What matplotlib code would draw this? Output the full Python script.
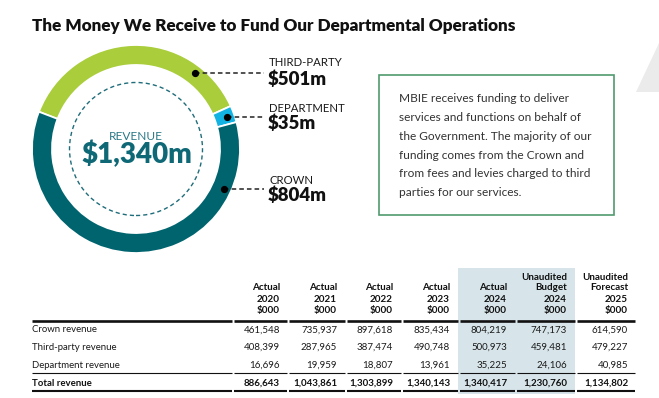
import matplotlib
matplotlib.use("Agg")
import matplotlib.pyplot as plt
from matplotlib.patches import Rectangle, Polygon, Circle
import numpy as np

plt.rcParams['font.family'] = ['Lato', 'DejaVu Sans']

# ---------------- data ----------------
title = "The Money We Receive to Fund Our Departmental Operations"
seg_names = ["THIRD-PARTY", "DEPARTMENT", "CROWN"]
seg_values = [501, 35, 804]          # $m
seg_colors = ["#a9cd3b", "#12b2e3", "#00646f"]
total_label = "$1,340m"
center_label = "REVENUE"

box_lines = [
    "MBIE receives funding to deliver",
    "services and functions on behalf of",
    "the Government. The majority of our",
    "funding comes from the Crown and",
    "from fees and levies charged to third",
    "parties for our services.",
]

col_headers = [
    ["Actual", "2020", "$000"],
    ["Actual", "2021", "$000"],
    ["Actual", "2022", "$000"],
    ["Actual", "2023", "$000"],
    ["Actual", "2024", "$000"],
    ["Unaudited", "Budget", "2024", "$000"],
    ["Unaudited", "Forecast", "2025", "$000"],
]
row_labels = ["Crown revenue", "Third-party revenue", "Department revenue"]
crown_rev = ["461,548", "735,937", "897,618", "835,434", "804,219", "747,173", "614,590"]
third_rev = ["408,399", "287,965", "387,474", "490,748", "500,973", "459,481", "479,227"]
dept_rev = ["16,696", "19,959", "18,807", "13,961", "35,225", "24,106", "40,985"]
total_label_row = "Total revenue"
total_rev = ["886,643", "1,043,861", "1,303,899", "1,340,143", "1,340,417", "1,230,760", "1,134,802"]

# ---------------- layout ----------------
W, H = 659, 398
fig = plt.figure(figsize=(W / 100, H / 100), dpi=100)

cx, cy, R = 136, 149, 104
ring_w = 20
pax = fig.add_axes([(cx - R) / W, (H - cy - R) / H, 2 * R / W, 2 * R / H])
pax.pie(seg_values, colors=seg_colors, startangle=159, counterclock=False,
        radius=1, wedgeprops=dict(width=ring_w / R, edgecolor="white", linewidth=1.3))
pax.add_patch(Circle((0, 0), 66.5 / R, fill=False, edgecolor="#1f6d7a",
                     linewidth=1.0, linestyle=(0, (3, 2.2))))
pax.set_xlim(-1, 1)
pax.set_ylim(-1, 1)
pax.set_aspect("equal")
pax.axis("off")

ax = fig.add_axes([0, 0, 1, 1])
ax.set_xlim(0, W)
ax.set_ylim(H, 0)
ax.axis("off")
ax.patch.set_alpha(0)

# title
ax.text(32, 26, title, fontsize=12.3, fontweight="heavy", color="#111111",
        ha="left", va="center")

# decorative triangle
ax.add_patch(Polygon([(636, 92), (659, 92), (659, 43)], closed=True,
                     facecolor="#ebebeb", edgecolor="none"))

# center labels
ax.text(cx, 136, center_label, fontsize=8.6, color="#2a7886", ha="center", va="center")
ax.text(cx + 1, 154, total_label, fontsize=20, fontweight="heavy", color="#0e6875",
        ha="center", va="center")

# callouts
dot_angles = [52, 19.6, -24.4]
lab_y = [(63, 79), (108, 123), (180, 195)]
r_dot = 0.925 * R
for name, val, ang, (y1, y2) in zip(seg_names, seg_values, dot_angles, lab_y):
    dx = cx + r_dot * np.cos(np.radians(ang))
    dy = cy - r_dot * np.sin(np.radians(ang))
    ax.plot([dx, 264], [dy, dy], color="#222222", lw=1.1, ls=(0, (3, 2)))
    ax.plot([dx], [dy], "o", color="#000000", ms=4.2)
    ax.text(269, y1, name, fontsize=8.2, color="#1a1a1a", ha="left", va="center")
    ax.text(268, y2, f"${val}m", fontsize=13.4, fontweight="heavy", color="#111111",
            ha="left", va="center")

# text box
ax.add_patch(Rectangle((379, 75), 235, 140, fill=False, edgecolor="#4f9b6d", lw=1.2))
for i, line in enumerate(box_lines):
    ax.text(399, 99 + i * 18.7, line, fontsize=8.6, color="#333333",
            ha="left", va="center")

# ---------------- table ----------------
col_right = [280, 337, 393, 450, 507, 567, 628]
col_sep = [232, 287, 345, 401, 458, 515, 575, 635]
left_x = 32
ax.add_patch(Rectangle((col_sep[4], 268), col_sep[6] - col_sep[4], 126,
                       facecolor="#d7e5ea", edgecolor="none", zorder=0))

head_y = [277, 288, 299, 311]
for x, hdr in zip(col_right, col_headers):
    ys = head_y[-len(hdr):]
    for y, t in zip(ys, hdr):
        ax.text(x, y, t, fontsize=7.1, fontweight="bold", color="#111111",
                ha="right", va="center")

row_y = [330, 347, 365]
for y, lab, vals in zip(row_y, row_labels, [crown_rev, third_rev, dept_rev]):
    ax.text(left_x, y, lab, fontsize=6.9, color="#1a1a1a", ha="left", va="center")
    for x, v in zip(col_right, vals):
        ax.text(x, y, v, fontsize=7.0, color="#1a1a1a", ha="right", va="center")

ty = 383
ax.text(left_x, ty, total_label_row, fontsize=6.9, fontweight="bold", color="#111111",
        ha="left", va="center")
for x, v in zip(col_right, total_rev):
    ax.text(x, ty, v, fontsize=7.0, fontweight="bold", color="#111111",
            ha="right", va="center")

starts = [left_x] + [s + 1.5 for s in col_sep[:-1]]
ends = col_sep
for s, e in zip(starts, ends):
    ax.plot([s, e], [320.5, 320.5], color="#111111", lw=1.9, solid_capstyle="butt")
    ax.plot([s, e], [373, 373], color="#111111", lw=0.8, solid_capstyle="butt")
    ax.plot([s, e], [390.5, 390.5], color="#111111", lw=1.5, solid_capstyle="butt")

fig.savefig("out.png", dpi=100)
